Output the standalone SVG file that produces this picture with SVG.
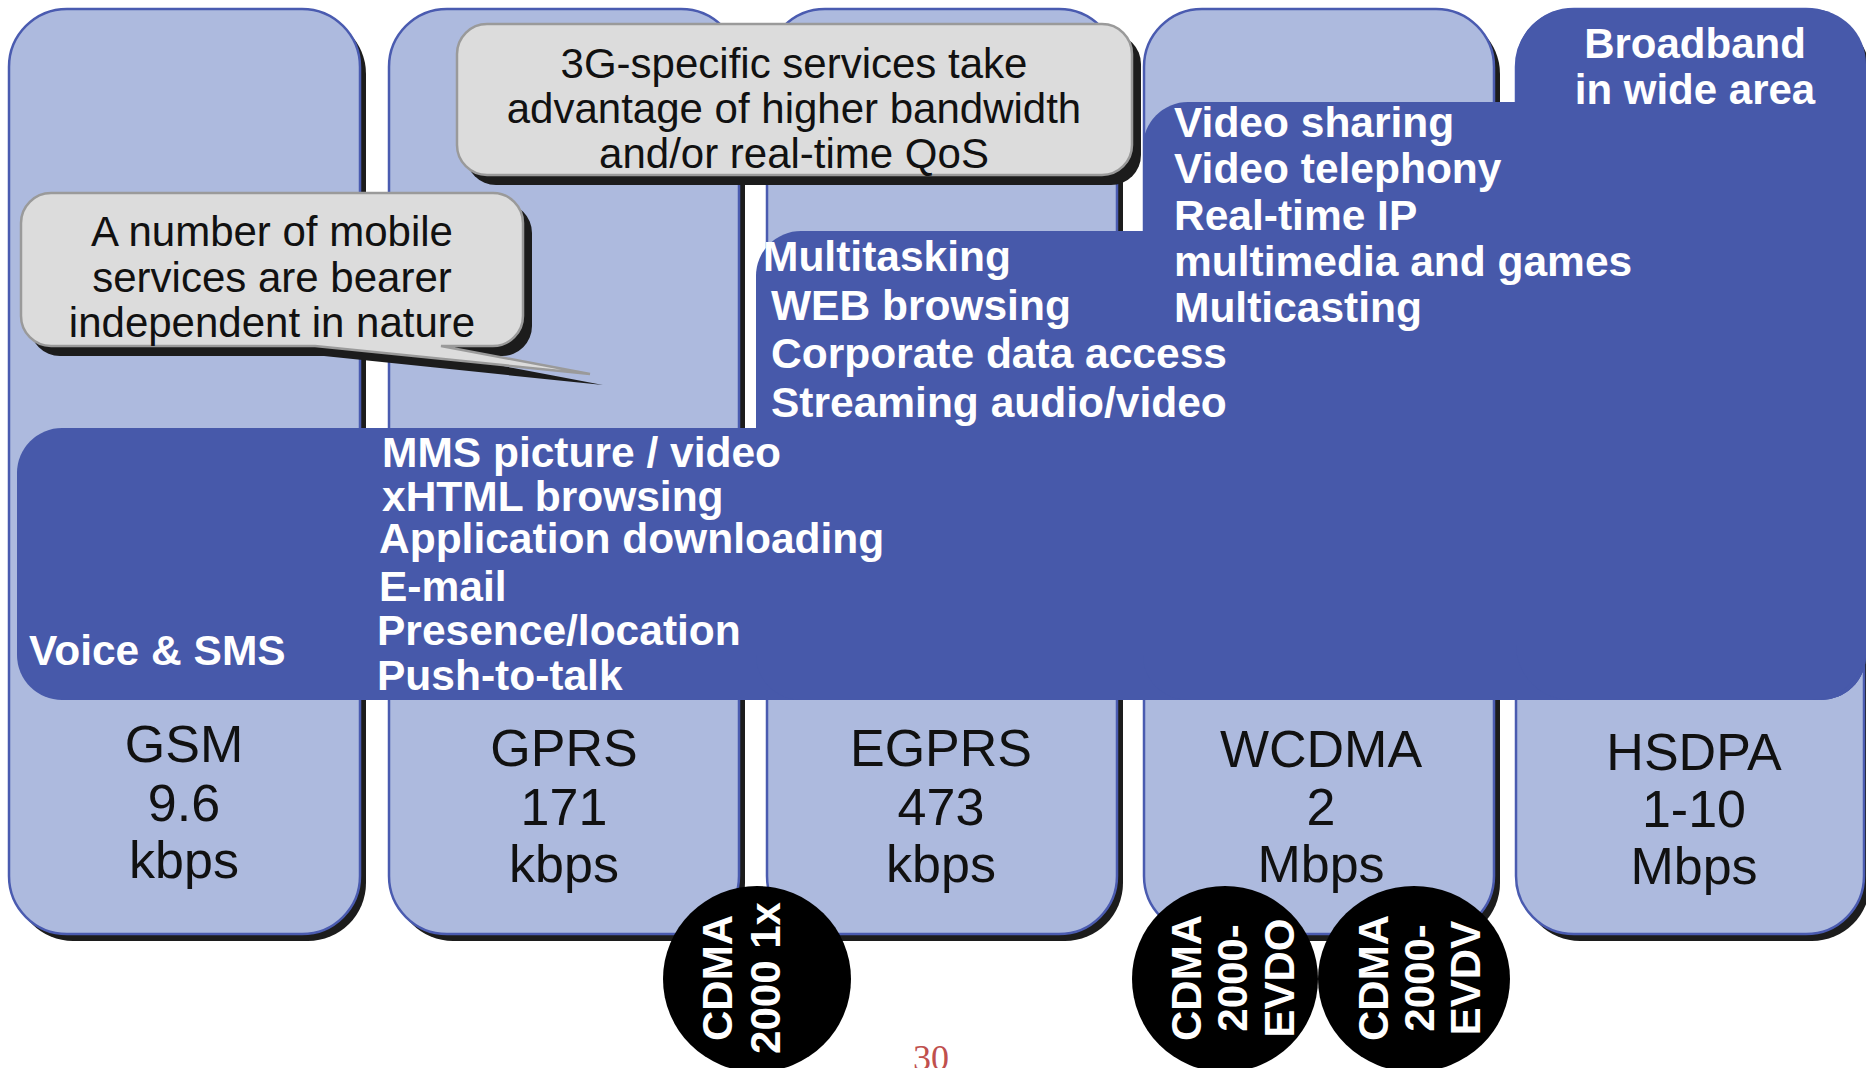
<svg xmlns="http://www.w3.org/2000/svg" width="1866" height="1068" viewBox="0 0 1866 1068">
<style>
.col{fill:#ADBADE;stroke:#4A5BB0;stroke-width:2.5}
.shd{fill:#1C1C1C}
.dark{fill:#4759AA}
.bub{fill:#DCDCDC;stroke:#9A9A9A;stroke-width:2.5}
.lbl{font-family:"Liberation Sans",Arial,sans-serif;font-size:52px;fill:#111;text-anchor:middle}
.bt{font-family:"Liberation Sans",Arial,sans-serif;font-size:42px;fill:#111;text-anchor:middle}
.wt{font-family:"Liberation Sans",Arial,sans-serif;font-size:42.5px;font-weight:bold;fill:#fff}
.ct{font-family:"Liberation Sans",Arial,sans-serif;font-size:42px;font-weight:bold;fill:#fff;text-anchor:middle}
</style>
<rect width="1866" height="1068" fill="#fff"/>

<g id="col-gsm">
<rect class="shd" x="15" y="16" width="351" height="925" rx="58"/>
<rect class="col" x="9" y="9" width="351" height="925" rx="58"/>
</g>
<g id="col-gprs">
<rect class="shd" x="395" y="16" width="350" height="925" rx="58"/>
<rect class="col" x="389" y="9" width="350" height="925" rx="58"/>
</g>
<g id="col-egprs">
<rect class="shd" x="773" y="16" width="350" height="925" rx="58"/>
<rect class="col" x="767" y="9" width="350" height="925" rx="58"/>
</g>
<g id="col-wcdma">
<rect class="shd" x="1150" y="16" width="350" height="925" rx="58"/>
<rect class="col" x="1144" y="9" width="350" height="925" rx="58"/>
</g>
<g id="col-hsdpa">
<rect class="shd" x="1522" y="16" width="348" height="925" rx="58"/>
<rect class="col" x="1516" y="9" width="348" height="925" rx="58"/>
</g>

<g id="service-areas">
<rect class="dark" x="17" y="428" width="1849" height="272" rx="45"/>
<rect class="dark" x="756" y="231" width="1110" height="469" rx="45"/>
<rect class="dark" x="1143" y="102" width="723" height="598" rx="45"/>
<rect class="dark" x="1516" y="9" width="350" height="691" rx="55"/>
</g>

<g id="callout-bearer">
<path class="shd" d="M60,203 H502 A30,30 0 0 1 532,233 V326 A30,30 0 0 1 502,356 H450 L603,385 L324,356 H60 A30,30 0 0 1 30,326 V233 A30,30 0 0 1 60,203 Z"/>
<path class="bub" d="M51,193 H493 A30,30 0 0 1 523,223 V316 A30,30 0 0 1 493,346 H441 L590,374 L315,346 H51 A30,30 0 0 1 21,316 V223 A30,30 0 0 1 51,193 Z"/>
<text class="bt" x="272" y="246">A number of mobile</text>
<text class="bt" x="272" y="292">services are bearer</text>
<text class="bt" x="272" y="337">independent in nature</text>
</g>

<g id="callout-3g">
<rect class="shd" x="466" y="34" width="675" height="151" rx="30"/>
<rect class="bub" x="457" y="24" width="675" height="151" rx="30"/>
<text class="bt" x="794" y="78">3G-specific services take</text>
<text class="bt" x="794" y="123">advantage of higher bandwidth</text>
<text class="bt" x="794" y="168">and/or real-time QoS</text>
</g>

<g id="services-basic">
<text class="wt" x="29" y="665">Voice &amp; SMS</text>
<text class="wt" x="382" y="467">MMS picture / video</text>
<text class="wt" x="382" y="511">xHTML browsing</text>
<text class="wt" x="379" y="553">Application downloading</text>
<text class="wt" x="379" y="601">E-mail</text>
<text class="wt" x="377" y="645">Presence/location</text>
<text class="wt" x="377" y="690">Push-to-talk</text>
</g>

<g id="services-egprs">
<text class="wt" x="763" y="271">Multitasking</text>
<text class="wt" x="771" y="320">WEB browsing</text>
<text class="wt" x="771" y="368">Corporate data access</text>
<text class="wt" x="771" y="417">Streaming audio/video</text>
</g>

<g id="services-3g">
<text class="wt" x="1174" y="137">Video sharing</text>
<text class="wt" x="1174" y="183">Video telephony</text>
<text class="wt" x="1174" y="230">Real-time IP</text>
<text class="wt" x="1174" y="276">multimedia and games</text>
<text class="wt" x="1174" y="322">Multicasting</text>
</g>

<g id="services-broadband">
<text class="ct" x="1695" y="58">Broadband</text>
<text class="ct" x="1695" y="104">in wide area</text>
</g>

<g id="labels">
<text class="lbl" x="184" y="762">GSM</text>
<text class="lbl" x="184" y="821">9.6</text>
<text class="lbl" x="184" y="878">kbps</text>
<text class="lbl" x="564" y="766">GPRS</text>
<text class="lbl" x="564" y="825">171</text>
<text class="lbl" x="564" y="882">kbps</text>
<text class="lbl" x="941" y="766">EGPRS</text>
<text class="lbl" x="941" y="825">473</text>
<text class="lbl" x="941" y="882">kbps</text>
<text class="lbl" x="1321" y="767">WCDMA</text>
<text class="lbl" x="1321" y="825">2</text>
<text class="lbl" x="1321" y="882">Mbps</text>
<text class="lbl" x="1694" y="770">HSDPA</text>
<text class="lbl" x="1694" y="827">1-10</text>
<text class="lbl" x="1694" y="884">Mbps</text>
</g>

<g id="cdma-1x">
<ellipse cx="757" cy="979" rx="94" ry="93" fill="#000"/>
<text class="ct" transform="translate(732,978) rotate(-90)">CDMA</text>
<text class="ct" transform="translate(780,978) rotate(-90)">2000 1x</text>
</g>
<g id="cdma-evdo">
<ellipse cx="1225" cy="979" rx="93" ry="93" fill="#000"/>
<text class="ct" transform="translate(1201,978) rotate(-90)">CDMA</text>
<text class="ct" transform="translate(1247,978) rotate(-90)">2000-</text>
<text class="ct" transform="translate(1294,978) rotate(-90)">EVDO</text>
</g>
<g id="cdma-evdv">
<ellipse cx="1414" cy="979" rx="96" ry="93" fill="#000"/>
<text class="ct" transform="translate(1388,978) rotate(-90)">CDMA</text>
<text class="ct" transform="translate(1434,978) rotate(-90)">2000-</text>
<text class="ct" transform="translate(1480,978) rotate(-90)">EVDV</text>
</g>

<text x="931" y="1070" font-family="'Liberation Serif',serif" font-size="36" fill="#C0504D" text-anchor="middle">30</text>
</svg>
